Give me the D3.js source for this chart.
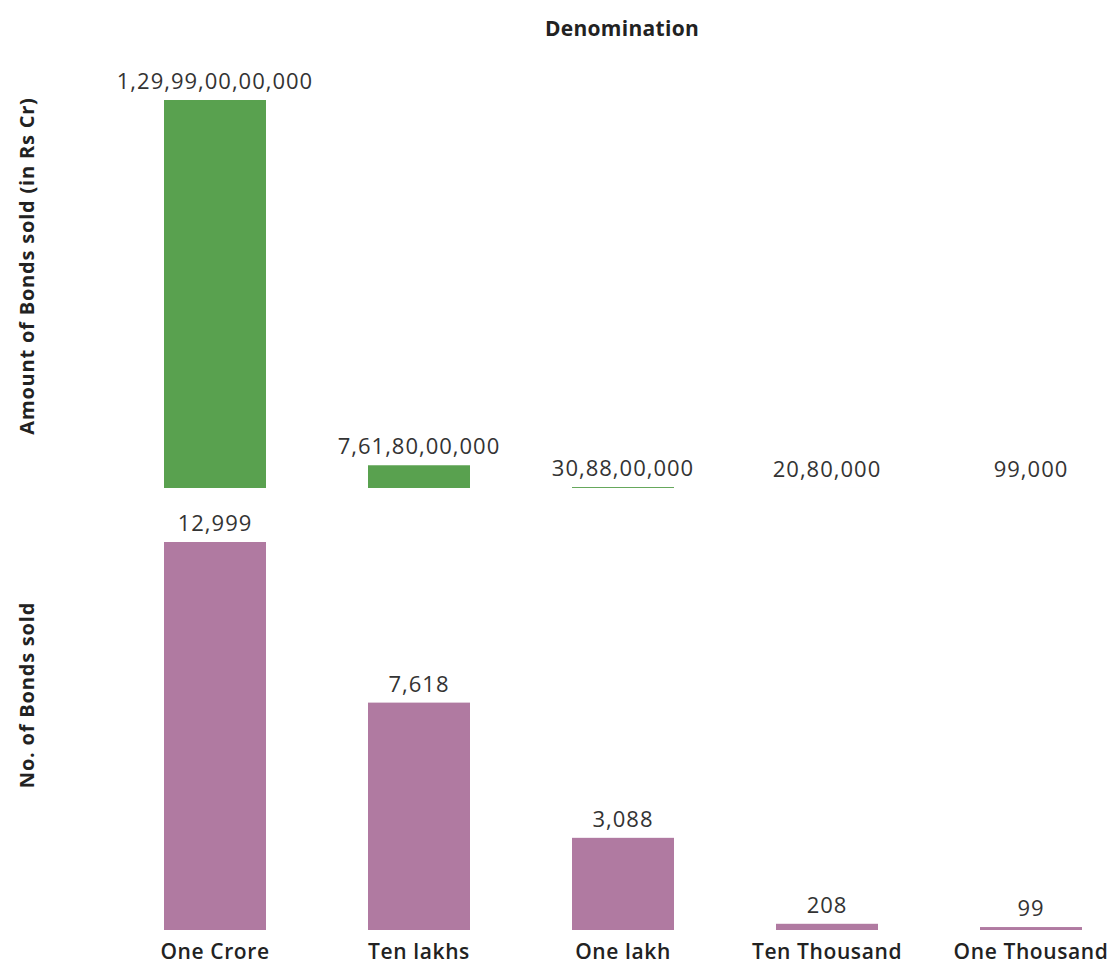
<!DOCTYPE html>
<html>
<head>
<meta charset="utf-8">
<script src="https://cdn.jsdelivr.net/npm/d3@7"></script>
<style>
  body { margin: 0; background: #fff; }
  text { font-family: "Open Sans", "DejaVu Sans", sans-serif; }
</style>
</head>
<body>
<div id="chart"></div>
<script>

var categories = ["One Crore", "Ten lakhs", "One lakh", "Ten Thousand", "One Thousand"];
var amountSold = [129990000000, 7618000000, 308800000, 2080000, 99000];
var bondsSold = [12999, 7618, 3088, 208, 99];

var svgWidth = 1113, svgHeight = 964;

// indian style grouping: last 3 digits, then pairs
function indianFormat(n) {
    var s = String(Math.round(n));
    if (s.length <= 3) return s;
    var last = s.slice(-3), rest = s.slice(0, -3);
    var parts = [];
    while (rest.length > 2) {
        parts.unshift(rest.slice(-2));
        rest = rest.slice(0, -2);
    }
    if (rest.length) parts.unshift(rest);
    return parts.join(",") + "," + last;
}

var svg = d3.select("#chart").append("svg")
    .attr("width", svgWidth)
    .attr("height", svgHeight);

var x = d3.scaleBand()
    .domain(categories)
    .range([113, 1133])
    .paddingInner(0.5)
    .paddingOuter(0.25);

var yTop = d3.scaleLinear().domain([0, d3.max(amountSold)]).range([488, 100]);
var yBottom = d3.scaleLinear().domain([0, d3.max(bondsSold)]).range([930, 542]);

svg.append("text")
    .attr("x", 622)
    .attr("y", 36)
    .attr("text-anchor", "middle")
    .style("font-size", "21px")
    .style("font-weight", "bold")
    .style("letter-spacing", "0.3px")
    .style("fill", "#222")
    .text("Denomination");

function drawPanel(values, y, color, title, titleY) {
    var g = svg.append("g");

    g.selectAll(".bar")
        .data(values)
        .enter().append("rect")
        .attr("class", "bar")
        .attr("x", function(d, i) { return x(categories[i]); })
        .attr("width", x.bandwidth())
        .attr("y", function(d) { return y(d); })
        .attr("height", function(d) { return y(0) - y(d); })
        .style("fill", color);

    g.selectAll(".label")
        .data(values)
        .enter().append("text")
        .attr("class", "label")
        .attr("x", function(d, i) { return x(categories[i]) + x.bandwidth() / 2; })
        .attr("y", function(d) { return y(d) - 11; })
        .attr("text-anchor", "middle")
        .style("font-size", "22px")
        .style("letter-spacing", "1px")
        .style("fill", "#333")
        .text(function(d) { return indianFormat(d); });

    g.append("text")
        .attr("transform", "translate(34," + titleY + ") rotate(-90)")
        .attr("text-anchor", "middle")
        .style("font-size", "20px")
        .style("font-weight", "bold")
        .style("letter-spacing", "0.8px")
        .style("fill", "#222")
        .text(title);
}

drawPanel(amountSold, yTop, "#59a14f", "Amount of Bonds sold (in Rs Cr)", 266);
drawPanel(bondsSold, yBottom, "#b07aa1", "No. of Bonds sold", 695);

var xAxis = svg.append("g")
    .attr("transform", "translate(0,930)")
    .call(d3.axisBottom(x).tickSize(0).tickPadding(14));

xAxis.select(".domain").remove();
xAxis.selectAll("text")
    .style("font-family", "\"Open Sans\", sans-serif")
    .style("font-size", "21px")
    .style("font-weight", "600")
    .style("letter-spacing", "0.6px")
    .style("fill", "#222");

</script>
</body>
</html>
